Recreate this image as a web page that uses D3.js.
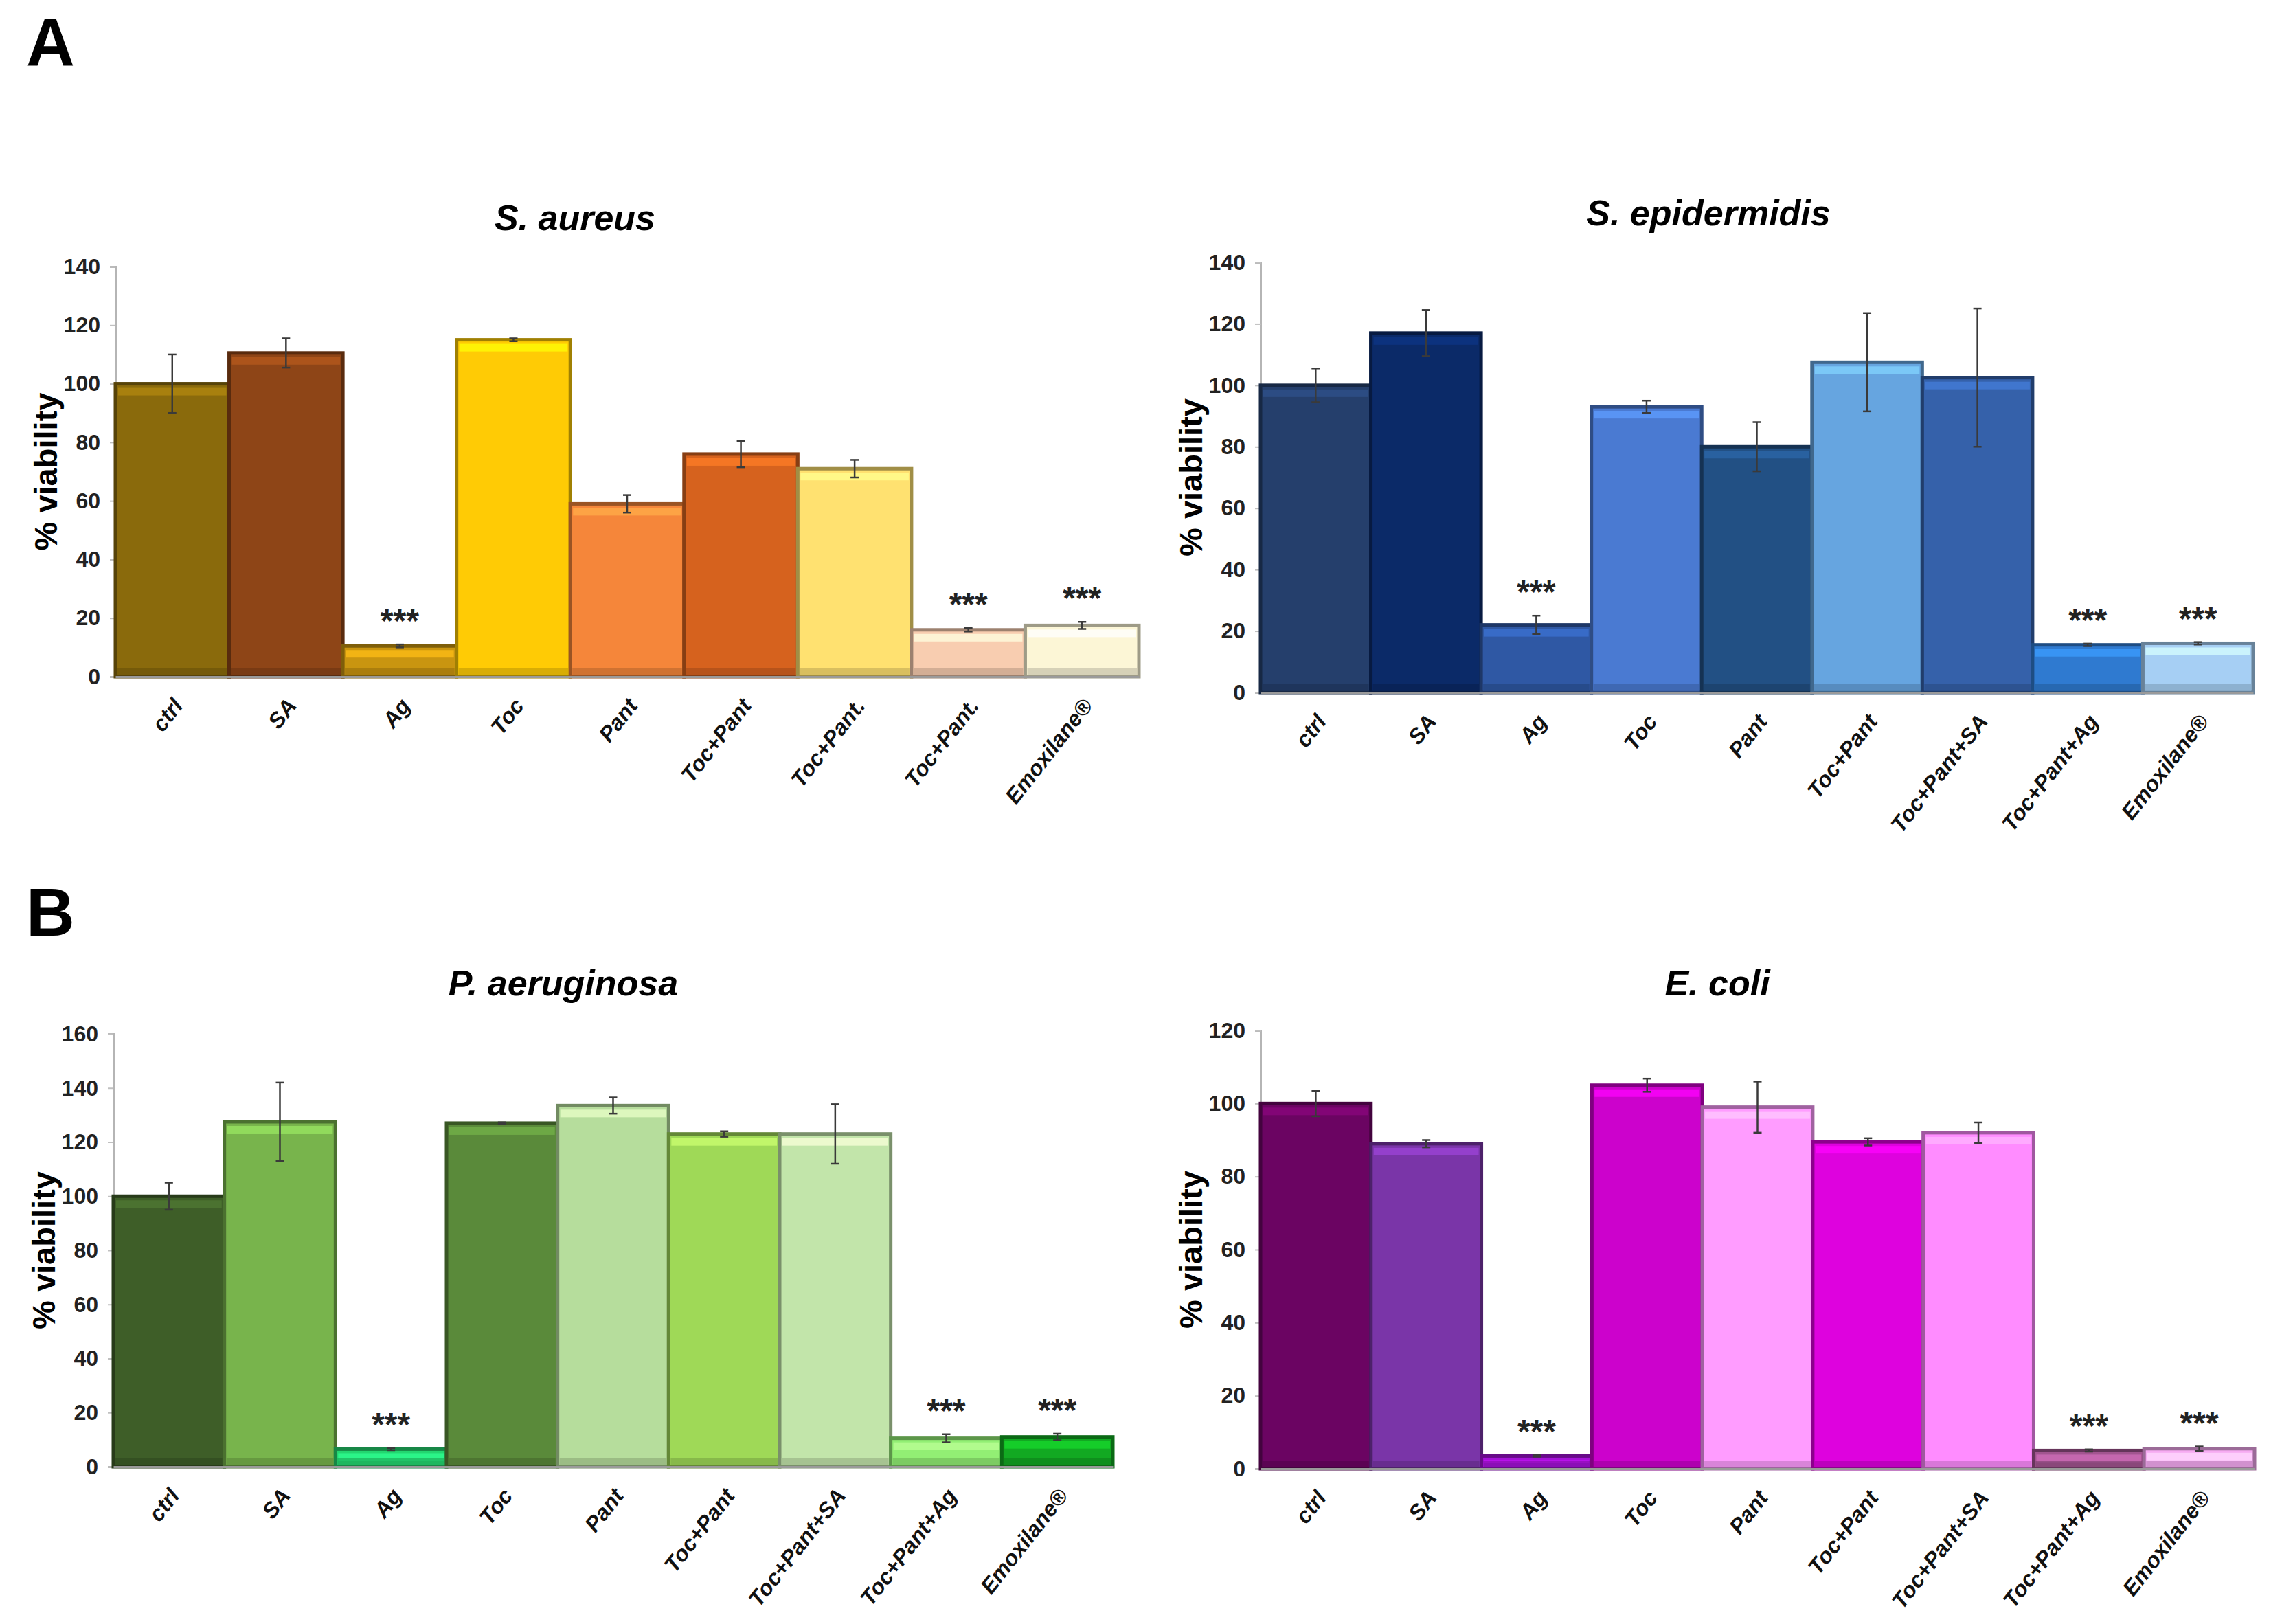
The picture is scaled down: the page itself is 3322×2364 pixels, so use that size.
<!DOCTYPE html>
<html>
<head>
<meta charset="utf-8">
<script src="https://cdn.jsdelivr.net/npm/d3@7"></script>
<style>
  body { margin: 0; background: #fff; }
</style>
</head>
<body>
<div id="chart"></div>
<script>
const width = 3322;
const height = 2364;

// categories
const labelsAureus = ["ctrl", "SA", "Ag", "Toc", "Pant", "Toc+Pant", "Toc+Pant.", "Toc+Pant.", "Emoxilane®"];
const labelsFull = ["ctrl", "SA", "Ag", "Toc", "Pant", "Toc+Pant", "Toc+Pant+SA", "Toc+Pant+Ag", "Emoxilane®"];
const starred = [false, false, true, false, false, false, false, true, true];

// S. aureus
const aureusMean = [100, 110.5, 10.5, 115, 59, 76, 71, 16, 17.5];
const aureusErr = [10, 5, 0.5, 0.5, 3, 4.5, 3, 0.6, 1.2];
const aureusColors = ["#8a6a0c", "#8e4517", "#c99510", "#ffcb05", "#f5863a", "#d6621e", "#ffe170", "#f8cdb0", "#fcf6d6"];

// S. epidermidis
const epiMean = [100, 117, 22, 93, 80, 107.5, 102.5, 15.5, 16];
const epiErr = [5.5, 7.5, 3, 2, 8, 16, 22.5, 0.4, 0.4];
const epiColors = ["#253f6c", "#0b2a68", "#2f58a4", "#4a7ad2", "#225084", "#66a5e0", "#3561aa", "#2f7ad0", "#a6cff4"];

// P. aeruginosa
const aerugMean = [100, 127.5, 6.5, 127, 133.5, 123, 123, 10.5, 11];
const aerugErr = [5, 14.5, 0.4, 0.3, 3, 1, 11, 1.5, 1.2];
const aerugColors = ["#3e5e28", "#78b44c", "#24d670", "#5a8a3a", "#b6dd9c", "#9fd957", "#c2e5aa", "#92ef74", "#12a922"];

// E. coli
const coliMean = [100, 89, 3.5, 105, 99, 89.5, 92, 5, 5.5];
const coliErr = [3.5, 1, 0.2, 1.8, 7, 1, 2.8, 0.3, 0.6];
const coliColors = ["#6b0462", "#7a35a8", "#a312d8", "#cc02cc", "#ff9cff", "#de02de", "#ff8cff", "#a25590", "#f6aaf2"];

const panels = [
  {title: "S. aureus", labels: labelsAureus, mean: aureusMean, err: aureusErr, colors: aureusColors, yMax: 140},
  {title: "S. epidermidis", labels: labelsFull, mean: epiMean, err: epiErr, colors: epiColors, yMax: 140},
  {title: "P. aeruginosa", labels: labelsFull, mean: aerugMean, err: aerugErr, colors: aerugColors, yMax: 160},
  {title: "E. coli", labels: labelsFull, mean: coliMean, err: coliErr, colors: coliColors, yMax: 120}
];

// where each panel sits on the page
const layout = [
  {x0: 168, x1: 1658, y0: 985, y1: 388, tx: 837, ty: 335},
  {x0: 1835, x1: 3280, y0: 1008, y1: 382, tx: 2487, ty: 328},
  {x0: 165, x1: 1620, y0: 2135, y1: 1505, tx: 820, ty: 1449},
  {x0: 1835, x1: 3282, y0: 2138, y1: 1500, tx: 2500, ty: 1449}
];

const font = "'Liberation Sans', Arial, sans-serif";

const svg = d3.select("#chart").append("svg")
    .attr("width", width)
    .attr("height", height)
    .attr("viewBox", [0, 0, width, height])
    .style("font-family", font);

svg.append("rect").attr("width", width).attr("height", height).attr("fill", "#fff");

// panel letters
svg.append("text").attr("x", 38).attr("y", 95)
    .attr("font-size", 98).attr("font-weight", "bold").text("A");
svg.append("text").attr("x", 38).attr("y", 1362)
    .attr("font-size", 98).attr("font-weight", "bold").text("B");

panels.forEach((p, k) => {
  const L = layout[k];
  const g = svg.append("g");

  const x = d3.scaleBand()
      .domain(d3.range(p.mean.length))
      .range([L.x0, L.x1])
      .padding(0);

  const y = d3.scaleLinear()
      .domain([0, p.yMax])
      .range([L.y0, L.y1]);

  // title
  g.append("text")
      .attr("x", L.tx).attr("y", L.ty)
      .attr("text-anchor", "middle")
      .attr("font-size", 52).attr("font-weight", "bold").attr("font-style", "italic")
      .text(p.title);

  // y axis
  g.append("g")
      .attr("transform", `translate(${L.x0},0)`)
      .call(d3.axisLeft(y).tickValues(d3.range(0, p.yMax + 1, 20)).tickSize(8).tickPadding(14))
      .call(a => a.select(".domain").attr("stroke", "#b5b5b5").attr("stroke-width", 3))
      .call(a => a.selectAll(".tick line").attr("stroke", "#c0c0c0").attr("stroke-width", 2))
      .call(a => a.selectAll(".tick text")
          .attr("font-size", 32).attr("font-weight", "bold").attr("fill", "#222")
          .style("font-family", font));

  // y label
  g.append("text")
      .attr("transform", `translate(${L.x0 - 102},${(L.y0 + L.y1) / 2}) rotate(-90)`)
      .attr("text-anchor", "middle")
      .attr("dominant-baseline", "central")
      .attr("font-size", 47).attr("font-weight", "bold")
      .text("% viability");

  // bars
  const bars = g.append("g").selectAll("g")
      .data(p.mean)
      .join("g");

  bars.append("rect")
      .attr("x", (d, i) => x(i))
      .attr("y", d => y(d))
      .attr("width", x.bandwidth())
      .attr("height", d => y(0) - y(d))
      .attr("fill", (d, i) => p.colors[i])
      .attr("stroke", (d, i) => d3.color(p.colors[i]).darker(1.3))
      .attr("stroke-width", 5);

  // light stripe just under the top of each bar
  bars.append("rect")
      .attr("x", (d, i) => x(i) + 4)
      .attr("y", d => y(d) + 6)
      .attr("width", x.bandwidth() - 8)
      .attr("height", d => Math.min(11, Math.max(0, y(0) - y(d) - 14)))
      .attr("fill", (d, i) => d3.color(p.colors[i]).brighter(0.7))
      .attr("opacity", 0.75);

  // darker foot of each bar
  bars.append("rect")
      .attr("x", (d, i) => x(i) + 3)
      .attr("y", y(0) - 12)
      .attr("width", x.bandwidth() - 6)
      .attr("height", d => Math.min(9, y(0) - y(d)))
      .attr("fill", (d, i) => d3.color(p.colors[i]).darker(0.8))
      .attr("opacity", 0.6);

  // error bars
  const errs = g.append("g")
      .attr("stroke", "#3a3a3a")
      .attr("stroke-width", 2.5)
      .selectAll("g")
      .data(p.mean)
      .join("g");

  errs.append("line")
      .attr("x1", (d, i) => x(i) + x.bandwidth() / 2)
      .attr("x2", (d, i) => x(i) + x.bandwidth() / 2)
      .attr("y1", (d, i) => y(d - p.err[i]))
      .attr("y2", (d, i) => y(d + p.err[i]));

  [-1, 1].forEach(s => {
    errs.append("line")
        .attr("x1", (d, i) => x(i) + x.bandwidth() / 2 - 6)
        .attr("x2", (d, i) => x(i) + x.bandwidth() / 2 + 6)
        .attr("y1", (d, i) => y(d + s * p.err[i]))
        .attr("y2", (d, i) => y(d + s * p.err[i]));
  });

  // significance stars
  g.append("g").selectAll("text")
      .data(p.mean.map((d, i) => ({d, i})).filter(o => starred[o.i]))
      .join("text")
      .attr("x", o => x(o.i) + x.bandwidth() / 2)
      .attr("y", o => y(o.d + p.err[o.i]) - 18)
      .attr("text-anchor", "middle")
      .attr("font-size", 48).attr("font-weight", "bold").attr("fill", "#222")
      .text("***");

  // x axis with rotated labels
  g.append("g")
      .attr("transform", `translate(0,${L.y0})`)
      .call(d3.axisBottom(x).tickSize(0).tickFormat(i => p.labels[i]))
      .call(a => a.select(".domain").attr("stroke", "#9a9a9a").attr("stroke-width", 3))
      .call(a => a.selectAll(".tick text")
          .attr("x", 0).attr("y", 0).attr("dy", "0.35em")
          .attr("transform", "translate(8,36) rotate(-52)")
          .attr("text-anchor", "end")
          .attr("font-size", 32).attr("font-weight", "bold").attr("font-style", "italic")
          .attr("fill", "#111")
          .style("font-family", font));
});
</script>
</body>
</html>
